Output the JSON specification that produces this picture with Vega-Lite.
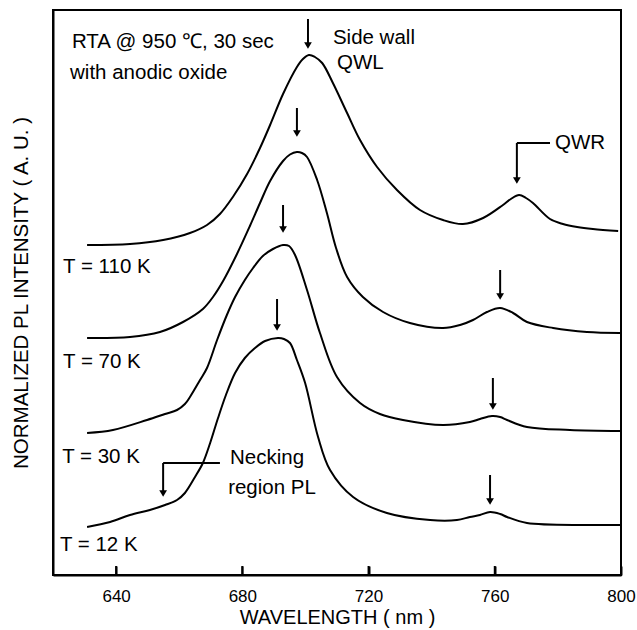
{
  "$schema": "https://vega.github.io/schema/vega-lite/v6.json",
  "width": 568,
  "height": 565,
  "autosize": {"type": "none"},
  "padding": {"left": 53, "top": 10, "right": 16, "bottom": 55},
  "config": {
    "view": {"stroke": "black", "strokeWidth": 2},
    "font": "Liberation Sans",
    "axis": {"grid": false, "domainColor": "black", "domainWidth": 2, "labelColor": "black", "titleColor": "black", "titleFontWeight": "normal", "labelFont": "Liberation Sans", "titleFont": "Liberation Sans"}
  },
  "layer": [
    {
      "data": {"values": [
        {"c":"110K","wl":630.8,"pl":330},{"c":"110K","wl":644.4,"pl":331},{"c":"110K","wl":654.9,"pl":335},{"c":"110K","wl":663.4,"pl":342},{"c":"110K","wl":668.8,"pl":350},{"c":"110K","wl":672.9,"pl":361},{"c":"110K","wl":677.0,"pl":378},{"c":"110K","wl":681.5,"pl":401},{"c":"110K","wl":685.6,"pl":427},{"c":"110K","wl":688.8,"pl":450},{"c":"110K","wl":692.9,"pl":481},{"c":"110K","wl":697.3,"pl":508},{"c":"110K","wl":699.2,"pl":516},{"c":"110K","wl":701.1,"pl":520},{"c":"110K","wl":703.0,"pl":518},{"c":"110K","wl":705.3,"pl":512},{"c":"110K","wl":708.7,"pl":492},{"c":"110K","wl":713.2,"pl":462},{"c":"110K","wl":717.3,"pl":435},{"c":"110K","wl":722.7,"pl":408},{"c":"110K","wl":729.0,"pl":385},{"c":"110K","wl":736.3,"pl":365},{"c":"110K","wl":743.6,"pl":355},{"c":"110K","wl":749.9,"pl":351},{"c":"110K","wl":756.3,"pl":357},{"c":"110K","wl":762.6,"pl":370},{"c":"110K","wl":765.1,"pl":376},{"c":"110K","wl":767.7,"pl":380},{"c":"110K","wl":769.9,"pl":377},{"c":"110K","wl":772.1,"pl":372},{"c":"110K","wl":777.5,"pl":356},{"c":"110K","wl":781.6,"pl":351},{"c":"110K","wl":786.1,"pl":348},{"c":"110K","wl":791.1,"pl":346},{"c":"110K","wl":799.1,"pl":344},
        {"c":"70K","wl":630.8,"pl":237},{"c":"70K","wl":644.4,"pl":238},{"c":"70K","wl":653.9,"pl":243},{"c":"70K","wl":661.2,"pl":253},{"c":"70K","wl":667.5,"pl":266},{"c":"70K","wl":670.7,"pl":278},{"c":"70K","wl":673.9,"pl":294},{"c":"70K","wl":678.3,"pl":321},{"c":"70K","wl":682.4,"pl":349},{"c":"70K","wl":685.6,"pl":372},{"c":"70K","wl":688.8,"pl":394},{"c":"70K","wl":692.9,"pl":414},{"c":"70K","wl":695.1,"pl":420.5},{"c":"70K","wl":697.3,"pl":423},{"c":"70K","wl":698.9,"pl":422},{"c":"70K","wl":700.5,"pl":418},{"c":"70K","wl":703.7,"pl":395},{"c":"70K","wl":706.8,"pl":362},{"c":"70K","wl":709.7,"pl":327},{"c":"70K","wl":713.2,"pl":298},{"c":"70K","wl":718.2,"pl":278},{"c":"70K","wl":724.6,"pl":263},{"c":"70K","wl":733.1,"pl":252},{"c":"70K","wl":743.6,"pl":247},{"c":"70K","wl":749.0,"pl":250},{"c":"70K","wl":753.1,"pl":255},{"c":"70K","wl":757.5,"pl":263},{"c":"70K","wl":761.7,"pl":267},{"c":"70K","wl":765.8,"pl":262},{"c":"70K","wl":770.2,"pl":253},{"c":"70K","wl":778.5,"pl":247},{"c":"70K","wl":789.2,"pl":243},{"c":"70K","wl":799.7,"pl":242},
        {"c":"30K","wl":630.8,"pl":142},{"c":"30K","wl":639.0,"pl":145},{"c":"30K","wl":649.8,"pl":155},{"c":"30K","wl":655.5,"pl":161},{"c":"30K","wl":659.3,"pl":165},{"c":"30K","wl":661.8,"pl":171},{"c":"30K","wl":663.4,"pl":178},{"c":"30K","wl":666.6,"pl":195},{"c":"30K","wl":668.8,"pl":207},{"c":"30K","wl":672.0,"pl":235},{"c":"30K","wl":675.1,"pl":260},{"c":"30K","wl":677.7,"pl":278},{"c":"30K","wl":680.8,"pl":295},{"c":"30K","wl":683.4,"pl":307},{"c":"30K","wl":686.5,"pl":319},{"c":"30K","wl":689.7,"pl":326},{"c":"30K","wl":692.9,"pl":330},{"c":"30K","wl":694.8,"pl":329},{"c":"30K","wl":696.7,"pl":320},{"c":"30K","wl":700.5,"pl":285},{"c":"30K","wl":704.6,"pl":242},{"c":"30K","wl":710.0,"pl":198},{"c":"30K","wl":717.3,"pl":172},{"c":"30K","wl":723.6,"pl":161},{"c":"30K","wl":730.9,"pl":155},{"c":"30K","wl":743.6,"pl":150},{"c":"30K","wl":752.1,"pl":153},{"c":"30K","wl":755.3,"pl":156},{"c":"30K","wl":759.1,"pl":159},{"c":"30K","wl":761.7,"pl":158},{"c":"30K","wl":763.9,"pl":155},{"c":"30K","wl":770.2,"pl":148},{"c":"30K","wl":783.8,"pl":145},{"c":"30K","wl":799.7,"pl":144},
        {"c":"12K","wl":630.8,"pl":48},{"c":"12K","wl":638.1,"pl":53},{"c":"12K","wl":644.4,"pl":60},{"c":"12K","wl":650.7,"pl":65},{"c":"12K","wl":655.5,"pl":70},{"c":"12K","wl":659.3,"pl":75},{"c":"12K","wl":661.8,"pl":82},{"c":"12K","wl":665.0,"pl":98},{"c":"12K","wl":667.5,"pl":112},{"c":"12K","wl":669.8,"pl":132},{"c":"12K","wl":672.3,"pl":157},{"c":"12K","wl":674.8,"pl":180},{"c":"12K","wl":677.7,"pl":202},{"c":"12K","wl":680.8,"pl":217},{"c":"12K","wl":684.0,"pl":227},{"c":"12K","wl":687.2,"pl":234},{"c":"12K","wl":691.3,"pl":237},{"c":"12K","wl":693.2,"pl":236},{"c":"12K","wl":695.1,"pl":232},{"c":"12K","wl":697.3,"pl":215},{"c":"12K","wl":699.9,"pl":192},{"c":"12K","wl":704.0,"pl":138},{"c":"12K","wl":707.8,"pl":105},{"c":"12K","wl":715.1,"pl":78},{"c":"12K","wl":725.8,"pl":62},{"c":"12K","wl":739.5,"pl":55},{"c":"12K","wl":748.0,"pl":55},{"c":"12K","wl":752.1,"pl":58},{"c":"12K","wl":755.3,"pl":60},{"c":"12K","wl":758.5,"pl":63},{"c":"12K","wl":761.7,"pl":61},{"c":"12K","wl":763.9,"pl":58},{"c":"12K","wl":770.2,"pl":52},{"c":"12K","wl":789.2,"pl":50},{"c":"12K","wl":799.7,"pl":50}
      ]},
      "mark": {"type": "line", "color": "black", "strokeWidth": 2, "interpolate": "catmull-rom"},
      "encoding": {
        "x": {"field": "wl", "type": "quantitative", "scale": {"domain": [620, 800], "nice": false, "zero": false},
          "axis": {"title": "WAVELENGTH ( nm )", "values": [640, 680, 720, 760, 800], "tickSize": -9, "tickWidth": 2, "tickColor": "black", "labelFontSize": 17, "labelPadding": 22, "labelFlush": false, "titleFontSize": 20, "titlePadding": 3}},
        "y": {"field": "pl", "type": "quantitative", "scale": {"domain": [0, 565], "nice": false, "zero": false},
          "axis": {"title": "NORMALIZED PL INTENSITY ( A. U. )", "labels": false, "ticks": false, "titleFontSize": 20.5, "titlePadding": 22}},
        "detail": {"field": "c"}
      }
    },
    {
      "data": {"values": [
        {"wl":640,"pl":0,"pl2":9},{"wl":680,"pl":0,"pl2":9},{"wl":720,"pl":0,"pl2":9},{"wl":760,"pl":0,"pl2":9}
      ]},
      "mark": {"type": "rule", "color": "black", "strokeWidth": 2},
      "encoding": {
        "x": {"field": "wl", "type": "quantitative"},
        "y": {"field": "pl", "type": "quantitative"},
        "y2": {"field": "pl2"}
      }
    },
    {
      "data": {"values": [
        {"wl":700.8,"pl":556,"pl2":529.5},{"wl":697.3,"pl":467,"pl2":441.5},{"wl":692.9,"pl":370,"pl2":345.5},{"wl":691.0,"pl":276,"pl2":247.5},
        {"wl":767.0,"pl":432,"pl2":394.5},{"wl":761.7,"pl":305,"pl2":278.5},{"wl":759.4,"pl":197,"pl2":168.5},{"wl":758.5,"pl":100,"pl2":73.5},
        {"wl":654.9,"pl":112,"pl2":81.5}
      ]},
      "mark": {"type": "rule", "color": "black", "strokeWidth": 2},
      "encoding": {
        "x": {"field": "wl", "type": "quantitative"},
        "y": {"field": "pl", "type": "quantitative"},
        "y2": {"field": "pl2"}
      }
    },
    {
      "data": {"values": [
        {"wl":767.0,"wl2":777.5,"pl":432},{"wl":654.9,"wl2":672.9,"pl":112}
      ]},
      "mark": {"type": "rule", "color": "black", "strokeWidth": 2},
      "encoding": {
        "x": {"field": "wl", "type": "quantitative"},
        "x2": {"field": "wl2"},
        "y": {"field": "pl", "type": "quantitative"}
      }
    },
    {
      "data": {"values": [
        {"wl":700.8,"pl":529.5},{"wl":697.3,"pl":441.5},{"wl":692.9,"pl":345.5},{"wl":691.0,"pl":247.5},
        {"wl":767.0,"pl":394.5},{"wl":761.7,"pl":278.5},{"wl":759.4,"pl":168.5},{"wl":758.5,"pl":73.5},
        {"wl":654.9,"pl":81.5}
      ]},
      "mark": {"type": "point", "shape": "triangle-down", "filled": true, "color": "black", "size": 60, "opacity": 1},
      "encoding": {
        "x": {"field": "wl", "type": "quantitative"},
        "y": {"field": "pl", "type": "quantitative"}
      }
    },
    {
      "data": {"values": [
        {"t":"RTA @ 950 ℃, 30 sec","wl":626.0,"pl":533},
        {"t":"with anodic oxide","wl":625.4,"pl":502},
        {"t":"Side wall","wl":708.7,"pl":537},
        {"t":"QWL","wl":710.0,"pl":512},
        {"t":"QWR","wl":779.1,"pl":432},
        {"t":"T = 110 K","wl":623.2,"pl":308},
        {"t":"T = 70 K","wl":623.2,"pl":213},
        {"t":"T = 30 K","wl":622.9,"pl":118},
        {"t":"T = 12 K","wl":622.2,"pl":30},
        {"t":"Necking","wl":676.1,"pl":117},
        {"t":"region PL","wl":675.5,"pl":87}
      ]},
      "mark": {"type": "text", "align": "left", "baseline": "middle", "fontSize": 20.5, "font": "Liberation Sans", "color": "black"},
      "encoding": {
        "x": {"field": "wl", "type": "quantitative"},
        "y": {"field": "pl", "type": "quantitative"},
        "text": {"field": "t"}
      }
    }
  ]
}
